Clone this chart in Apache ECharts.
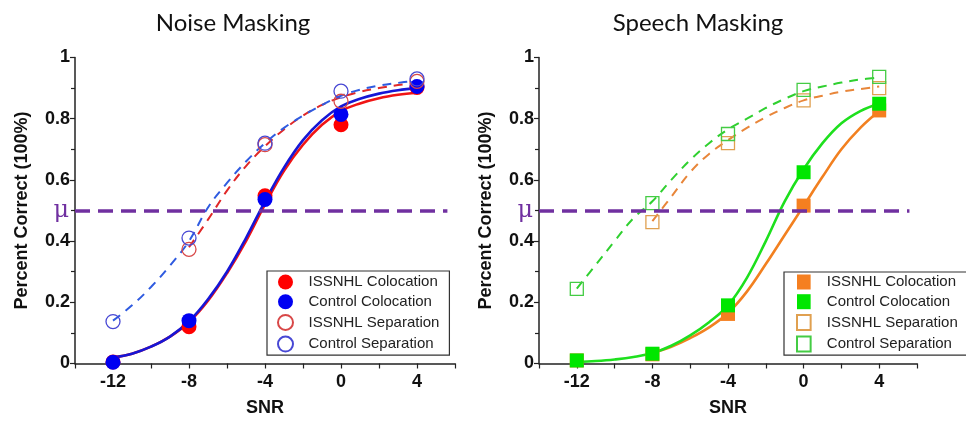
<!DOCTYPE html>
<html><head><meta charset="utf-8">
<script src="https://cdn.jsdelivr.net/npm/echarts@6/dist/echarts.min.js"></script>
<style>html,body{margin:0;padding:0;background:#fff;overflow:hidden}
#a{position:absolute;left:0;top:0;width:472px;height:421px}
#b{position:absolute;left:472px;top:0;width:494px;height:421px}</style>
</head><body><div id="a"></div><div id="b"></div>
<script>
// ---------- data ----------
const snr = [-12, -8, -4, 0, 4];
const xTickLabels = [-12, -8, -4, 0, 4];
const yTickLabels = [0, 0.2, 0.4, 0.6, 0.8, 1];
const legendNames = ['ISSNHL Colocation', 'Control Colocation', 'ISSNHL Separation', 'Control Separation'];
const muLevel = 0.5;
const muRange = [-14, 5.6];

// Noise masking: measured points
const noiseIssnhlColo = [0.005, 0.12, 0.548, 0.78, 0.902];
const noiseControlColo = [0.004, 0.14, 0.536, 0.814, 0.905];
const noiseIssnhlSep = [null, 0.373, 0.715, 0.857, 0.922];
const noiseControlSep = [0.137, 0.41, 0.72, 0.89, 0.93];

const fitX12 = [-12, -11, -10, -9, -8, -7, -6, -5, -4, -3, -2, -1, 0, 1, 2, 3, 4];
const fitX8 = [-8, -7, -6, -5, -4, -3, -2, -1, 0, 1, 2, 3, 4];

const noiseIssnhlColoFit = [0.020, 0.032, 0.055, 0.088, 0.135, 0.205, 0.295, 0.40, 0.52, 0.63, 0.715, 0.78, 0.825, 0.85, 0.867, 0.878, 0.885];
const noiseControlColoFit = [0.020, 0.032, 0.055, 0.088, 0.138, 0.21, 0.30, 0.41, 0.53, 0.64, 0.73, 0.795, 0.84, 0.865, 0.882, 0.893, 0.90];
const noiseIssnhlSepFit = [0.38, 0.47, 0.565, 0.645, 0.71, 0.765, 0.81, 0.845, 0.87, 0.888, 0.90, 0.91, 0.918];
const noiseControlSepFit = [0.14, 0.19, 0.25, 0.32, 0.40, 0.51, 0.59, 0.66, 0.72, 0.77, 0.81, 0.845, 0.875, 0.895, 0.908, 0.917, 0.925];

// Speech masking: measured points
const speechIssnhlColo = [0.01, 0.03, 0.162, 0.516, 0.827];
const speechControlColo = [0.01, 0.032, 0.19, 0.625, 0.849];
const speechIssnhlSep = [null, 0.462, 0.72, 0.86, 0.90];
const speechControlSep = [0.244, 0.524, 0.75, 0.894, 0.937];

const speechIssnhlColoFit = [0.035, 0.055, 0.083, 0.118, 0.165, 0.235, 0.325, 0.42, 0.515, 0.61, 0.70, 0.77, 0.825];
const speechControlColoFit = [0.005, 0.008, 0.013, 0.021, 0.034, 0.058, 0.092, 0.135, 0.19, 0.28, 0.40, 0.53, 0.635, 0.72, 0.785, 0.825, 0.85];
const speechIssnhlSepFit = [0.465, 0.545, 0.625, 0.685, 0.73, 0.77, 0.805, 0.835, 0.86, 0.875, 0.888, 0.897, 0.905];
const speechControlSepFit = [0.245, 0.322, 0.40, 0.475, 0.53, 0.60, 0.665, 0.72, 0.765, 0.80, 0.835, 0.865, 0.89, 0.905, 0.918, 0.928, 0.935];

// ---------- helpers ----------
const pairs = (xs, ys) => xs.map((x, i) => [x, ys[i]]).filter(p => p[1] != null);
const AX = 'Liberation Sans, Arial, sans-serif';
const SQUARE = 'path://M0,0L10,0L10,11L0,11Z';

function curve(xs, ys, color, dashed, w) {
  return {
    type: 'line', data: pairs(xs, ys), smooth: 0.4,
    symbol: 'none', silent: true, z: 2,
    lineStyle: { color: color, width: w, type: dashed ? [9, 7] : 'solid' }
  };
}
function points(name, ys, symbol, size, fill, stroke, bw, z) {
  return {
    type: 'scatter', name: name, data: pairs(snr, ys), symbol: symbol, symbolSize: size,
    silent: true, z: z,
    itemStyle: { color: fill, borderColor: stroke, borderWidth: bw, opacity: 1 }
  };
}
function muSeries() {
  return {
    type: 'line', data: [], silent: true, z: 2.5,
    markLine: {
      silent: true, symbol: 'none', animation: false,
      lineStyle: { color: '#7030A0', width: 3.5, type: [15, 8] },
      label: { show: true, position: 'start', formatter: 'μ', distance: 6,
        color: '#7030A0', fontSize: 24, fontFamily: 'DejaVu Serif, serif' },
      data: [[{ coord: [muRange[0], muLevel] }, { coord: [muRange[1], muLevel] }]]
    }
  };
}

function baseOption(o) {
  return {
    animation: false,
    graphic: [{
      type: 'text', x: o.titleX, y: 23, silent: true,
      style: { text: o.title, fill: '#111', font: '24px Lato, sans-serif', align: 'center', verticalAlign: 'middle' }
    }],
    grid: { left: o.gridLeft, top: 57.5, width: o.gridWidth, height: 306, containLabel: false, outerBoundsMode: 'none' },
    legend: {
      orient: 'vertical', left: o.legLeft, top: o.legTop, selectedMode: false,
      itemWidth: 36, itemHeight: 15, itemGap: 4.7,
      padding: o.legPad, borderColor: '#333', borderWidth: 1.2,
      textStyle: { fontFamily: AX, fontSize: 15, color: '#222' },
      data: o.legendData
    },
    xAxis: {
      type: 'value', min: -14, max: 6, interval: 2,
      axisLine: { show: true, onZero: false, lineStyle: { color: '#222', width: 1.5 } },
      axisTick: { show: true, length: 5, lineStyle: { color: '#222', width: 1.2 } },
      splitLine: { show: false },
      axisLabel: { margin: 10, color: '#111', fontFamily: AX, fontWeight: 'bold', fontSize: 18,
        formatter: v => xTickLabels.includes(v) ? String(v) : '' },
      name: 'SNR', nameLocation: 'middle', nameGap: 36,
      nameTextStyle: { color: '#111', fontFamily: AX, fontWeight: 'bold', fontSize: 18 }
    },
    yAxis: {
      type: 'value', min: 0, max: 1, interval: 0.2,
      axisLine: { show: true, onZero: false, lineStyle: { color: '#222', width: 1.5 } },
      axisTick: { show: true, length: 5, lineStyle: { color: '#222', width: 1.2 } },
      minorTick: { show: true, splitNumber: 2, length: 4, lineStyle: { color: '#222', width: 1.2 } },
      splitLine: { show: false }, minorSplitLine: { show: false },
      axisLabel: { margin: 5, color: '#111', fontFamily: AX, fontWeight: 'bold', fontSize: 18,
        formatter: v => { const r = Math.round(v * 10) / 10; return yTickLabels.includes(r) ? String(r) : ''; } },
      name: 'Percent Correct (100%)', nameLocation: 'middle', nameGap: 44,
      nameTextStyle: { color: '#111', fontFamily: AX, fontWeight: 'bold', fontSize: 18 }
    },
    series: o.series
  };
}

// ---------- Noise masking ----------
const chartA = echarts.init(document.getElementById('a'), null, { renderer: 'canvas' });
chartA.setOption(baseOption({
  title: 'Noise Masking', titleX: 233, gridLeft: 75, gridWidth: 380,
  legLeft: 267, legTop: 271, legPad: [3.5, 10, 2.5, 10],
  legendData: legendNames,
  series: [
    curve(fitX8, noiseIssnhlSepFit, '#E02828', true, 2),
    curve(fitX12, noiseControlSepFit, '#2F5BE0', true, 2),
    curve(fitX12, noiseIssnhlColoFit, '#F01414', false, 2.6),
    curve(fitX12, noiseControlColoFit, '#1616D6', false, 2.6),
    muSeries(),
    points(legendNames[0], noiseIssnhlColo, 'circle', 15, '#FF0000', '#FF0000', 0, 3),
    points(legendNames[1], noiseControlColo, 'circle', 15, '#0000F2', '#0000F2', 0, 3.1),
    points(legendNames[2], noiseIssnhlSep, 'circle', 14, 'rgba(255,255,255,0)', '#D84848', 1.3, 3.2),
    points(legendNames[3], noiseControlSep, 'circle', 14, 'rgba(255,255,255,0)', '#4848D4', 1.3, 3.3)
  ]
}));

// ---------- Speech masking ----------
const chartB = echarts.init(document.getElementById('b'), null, { renderer: 'canvas' });
chartB.setOption(baseOption({
  title: 'Speech Masking', titleX: 226, gridLeft: 67, gridWidth: 378,
  legLeft: 312, legTop: 272, legPad: [2.5, 10, 2.5, 12],
  legendData: legendNames.map(n => ({ name: n, icon: SQUARE })),
  series: [
    curve(fitX8, speechIssnhlSepFit, '#E8863A', true, 2),
    curve(fitX12, speechControlSepFit, '#30D030', true, 2),
    curve(fitX8, speechIssnhlColoFit, '#F28020', false, 2.6),
    curve(fitX12, speechControlColoFit, '#1EE01E', false, 2.6),
    muSeries(),
    points(legendNames[0], speechIssnhlColo, 'rect', 14, '#F57F20', '#F57F20', 0, 3),
    points(legendNames[1], speechControlColo, 'rect', 14, '#00E600', '#00E600', 0, 3.1),
    points(legendNames[2], speechIssnhlSep, 'rect', 13, 'rgba(255,255,255,0)', '#E0A050', 1.3, 3.2),
    points(legendNames[3], speechControlSep, 'rect', 13, 'rgba(255,255,255,0)', '#44CC44', 1.3, 3.3)
  ]
}));
</script>
</body></html>
